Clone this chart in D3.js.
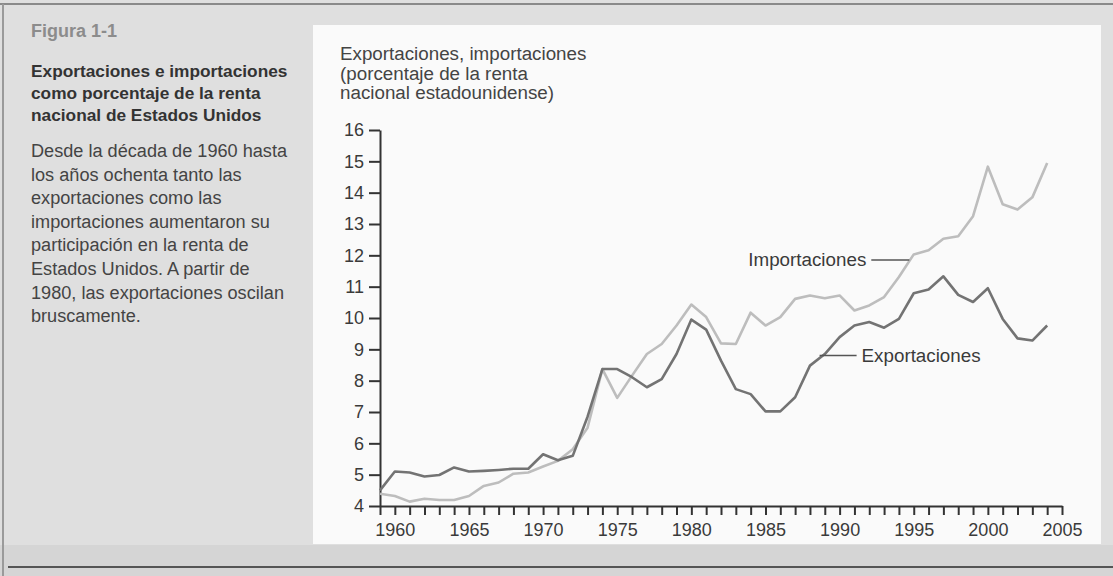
<!DOCTYPE html>
<html>
<head>
<meta charset="utf-8">
<script src="https://cdn.jsdelivr.net/npm/d3@7"></script>
<style>
  body { margin: 0; background: #dddddd; }
  svg { display: block; font-family: 'Liberation Sans', Arial, Helvetica, sans-serif; }
</style>
</head>
<body>
<div id="io"></div>
<script>
// years 1959 - 2004
const YEARS = [1959, 1960, 1961, 1962, 1963, 1964, 1965, 1966, 1967, 1968,
  1969, 1970, 1971, 1972, 1973, 1974, 1975, 1976, 1977, 1978,
  1979, 1980, 1981, 1982, 1983, 1984, 1985, 1986, 1987, 1988,
  1989, 1990, 1991, 1992, 1993, 1994, 1995, 1996, 1997, 1998,
  1999, 2000, 2001, 2002, 2003, 2004];

const EXPORTS = [4.5, 5.1, 5.07, 4.94, 4.99, 5.23, 5.1, 5.12, 5.15, 5.19,
  5.19, 5.65, 5.46, 5.6, 6.85, 8.37, 8.37, 8.11, 7.79, 8.05,
  8.85, 9.95, 9.63, 8.64, 7.73, 7.57, 7.02, 7.02, 7.47, 8.48,
  8.85, 9.39, 9.76, 9.87, 9.69, 9.97, 10.79, 10.91, 11.33, 10.74,
  10.51, 10.95, 9.97, 9.35, 9.28, 9.76];

const IMPORTS = [4.39, 4.32, 4.14, 4.23, 4.19, 4.19, 4.32, 4.64, 4.75, 5.03,
  5.07, 5.26, 5.44, 5.81, 6.5, 8.37, 7.45, 8.16, 8.85, 9.17,
  9.76, 10.43, 10.03, 9.19, 9.17, 10.17, 9.76, 10.03, 10.61, 10.72,
  10.63, 10.72, 10.24, 10.4, 10.67, 11.31, 12.03, 12.16, 12.53, 12.61,
  13.25, 14.83, 13.63, 13.46, 13.85, 14.95];

// axis ticks
const X_TICKS = [1959, 1960, 1961, 1962, 1963, 1964, 1965, 1966, 1967, 1968,
  1969, 1970, 1971, 1972, 1973, 1974, 1975, 1976, 1977, 1978,
  1979, 1980, 1981, 1982, 1983, 1984, 1985, 1986, 1987, 1988,
  1989, 1990, 1991, 1992, 1993, 1994, 1995, 1996, 1997, 1998,
  1999, 2000, 2001, 2002, 2003, 2004, 2005];
const X_LABELS = [1960, 1965, 1970, 1975, 1980, 1985, 1990, 1995, 2000, 2005];
const Y_TICKS = [4, 5, 6, 7, 8, 9, 10, 11, 12, 13, 14, 15, 16];

const Y_TITLE = ['Exportaciones, importaciones', '(porcentaje de la renta', 'nacional estadounidense)'];
const FIG_NUM = 'Figura 1-1';
const FIG_TITLE = ['Exportaciones e importaciones', 'como porcentaje de la renta', 'nacional de Estados Unidos'];
const FIG_TEXT = ['Desde la década de 1960 hasta', 'los años ochenta tanto las', 'exportaciones como las',
  'importaciones aumentaron su', 'participación en la renta de', 'Estados Unidos. A partir de',
  '1980, las exportaciones oscilan', 'bruscamente.'];

const W = 1113, H = 576;
const svg = d3.select('#io').append('svg').attr('width', W).attr('height', H);

// page / scanned panels
svg.append('rect').attr('width', W).attr('height', H).attr('fill', '#dfdfdf');
svg.append('rect').attr('x', 0).attr('y', 545).attr('width', W).attr('height', H - 545).attr('fill', '#d5d5d5');
svg.append('rect').attr('x', 313).attr('y', 25).attr('width', 788).attr('height', 519).attr('fill', '#fafafa');
svg.append('line').attr('x1', 0).attr('x2', W).attr('y1', 4).attr('y2', 4).attr('stroke', '#8a8a8a').attr('stroke-width', 2);
svg.append('line').attr('x1', 3).attr('x2', 3).attr('y1', 4).attr('y2', H).attr('stroke', '#9a9a9a').attr('stroke-width', 2);
svg.append('line').attr('x1', 8).attr('x2', W).attr('y1', 567).attr('y2', 567).attr('stroke', '#555').attr('stroke-width', 2);

// left caption
svg.append('text').attr('x', 31).attr('y', 37).attr('fill', '#8c8c8c')
  .attr('font-size', 18).attr('font-weight', 'bold').text(FIG_NUM);
svg.append('g').selectAll('text').data(FIG_TITLE).join('text')
  .attr('x', 31).attr('y', (d, i) => 77 + i * 22)
  .attr('fill', '#333').attr('font-size', 17.3).attr('font-weight', 'bold').text(d => d);
svg.append('g').attr('transform', 'translate(31,0) scale(0.955,1)')
  .selectAll('text').data(FIG_TEXT).join('text')
  .attr('x', 0).attr('y', (d, i) => 157 + i * 23.6)
  .attr('fill', '#444').attr('font-size', 19).text(d => d);

// scales
const x = d3.scaleLinear().domain([1959, 2005]).range([380, 1062]);
const y = d3.scaleLinear().domain([4, 16]).range([506, 130]);

// y title
svg.append('g').selectAll('text').data(Y_TITLE).join('text')
  .attr('x', 340).attr('y', (d, i) => 60 + i * 19.5)
  .attr('fill', '#444').attr('font-size', 18.8).text(d => d);

// axes
const yAxis = svg.append('g').attr('transform', `translate(${x(1959)},0)`)
  .call(d3.axisLeft(y).tickValues(Y_TICKS).tickSize(11).tickSizeOuter(0).tickPadding(5));
const xAxis = svg.append('g').attr('transform', `translate(0,${y(4)})`)
  .call(d3.axisBottom(x).tickValues(X_TICKS).tickSize(9).tickSizeOuter(0).tickPadding(8)
    .tickFormat(d => X_LABELS.includes(d) ? d : ''));
[yAxis, xAxis].forEach(a => {
  a.selectAll('path, line').attr('stroke', '#333').attr('stroke-width', 2);
  a.selectAll('text').attr('fill', '#3a3a3a').attr('font-size', 18)
    .attr('font-family', "'Liberation Sans', Arial, sans-serif");
});

// series
const line = d3.line().x((d, i) => x(YEARS[i])).y(d => y(d));
svg.append('path').datum(IMPORTS).attr('d', line)
  .attr('fill', 'none').attr('stroke', '#bdbdbd').attr('stroke-width', 2.6).attr('stroke-linejoin', 'round');
svg.append('path').datum(EXPORTS).attr('d', line)
  .attr('fill', 'none').attr('stroke', '#737373').attr('stroke-width', 2.6).attr('stroke-linejoin', 'round');

// series labels with leader lines
const labels = [
  { text: 'Importaciones', year: 1994.7, value: 11.85, dx: -38, side: 'left' },
  { text: 'Exportaciones', year: 1988.65, value: 8.8, dx: 37, side: 'right' }
];
labels.forEach(l => {
  const px = x(l.year), py = y(l.value);
  svg.append('line').attr('x1', px).attr('x2', px + l.dx).attr('y1', py).attr('y2', py)
    .attr('stroke', '#555').attr('stroke-width', 1.5);
  svg.append('text')
    .attr('x', l.side === 'left' ? px + l.dx - 5 : px + l.dx + 5)
    .attr('y', py + 6)
    .attr('text-anchor', l.side === 'left' ? 'end' : 'start')
    .attr('fill', '#3a3a3a').attr('font-size', 18.8).text(l.text);
});
</script>
</body>
</html>
